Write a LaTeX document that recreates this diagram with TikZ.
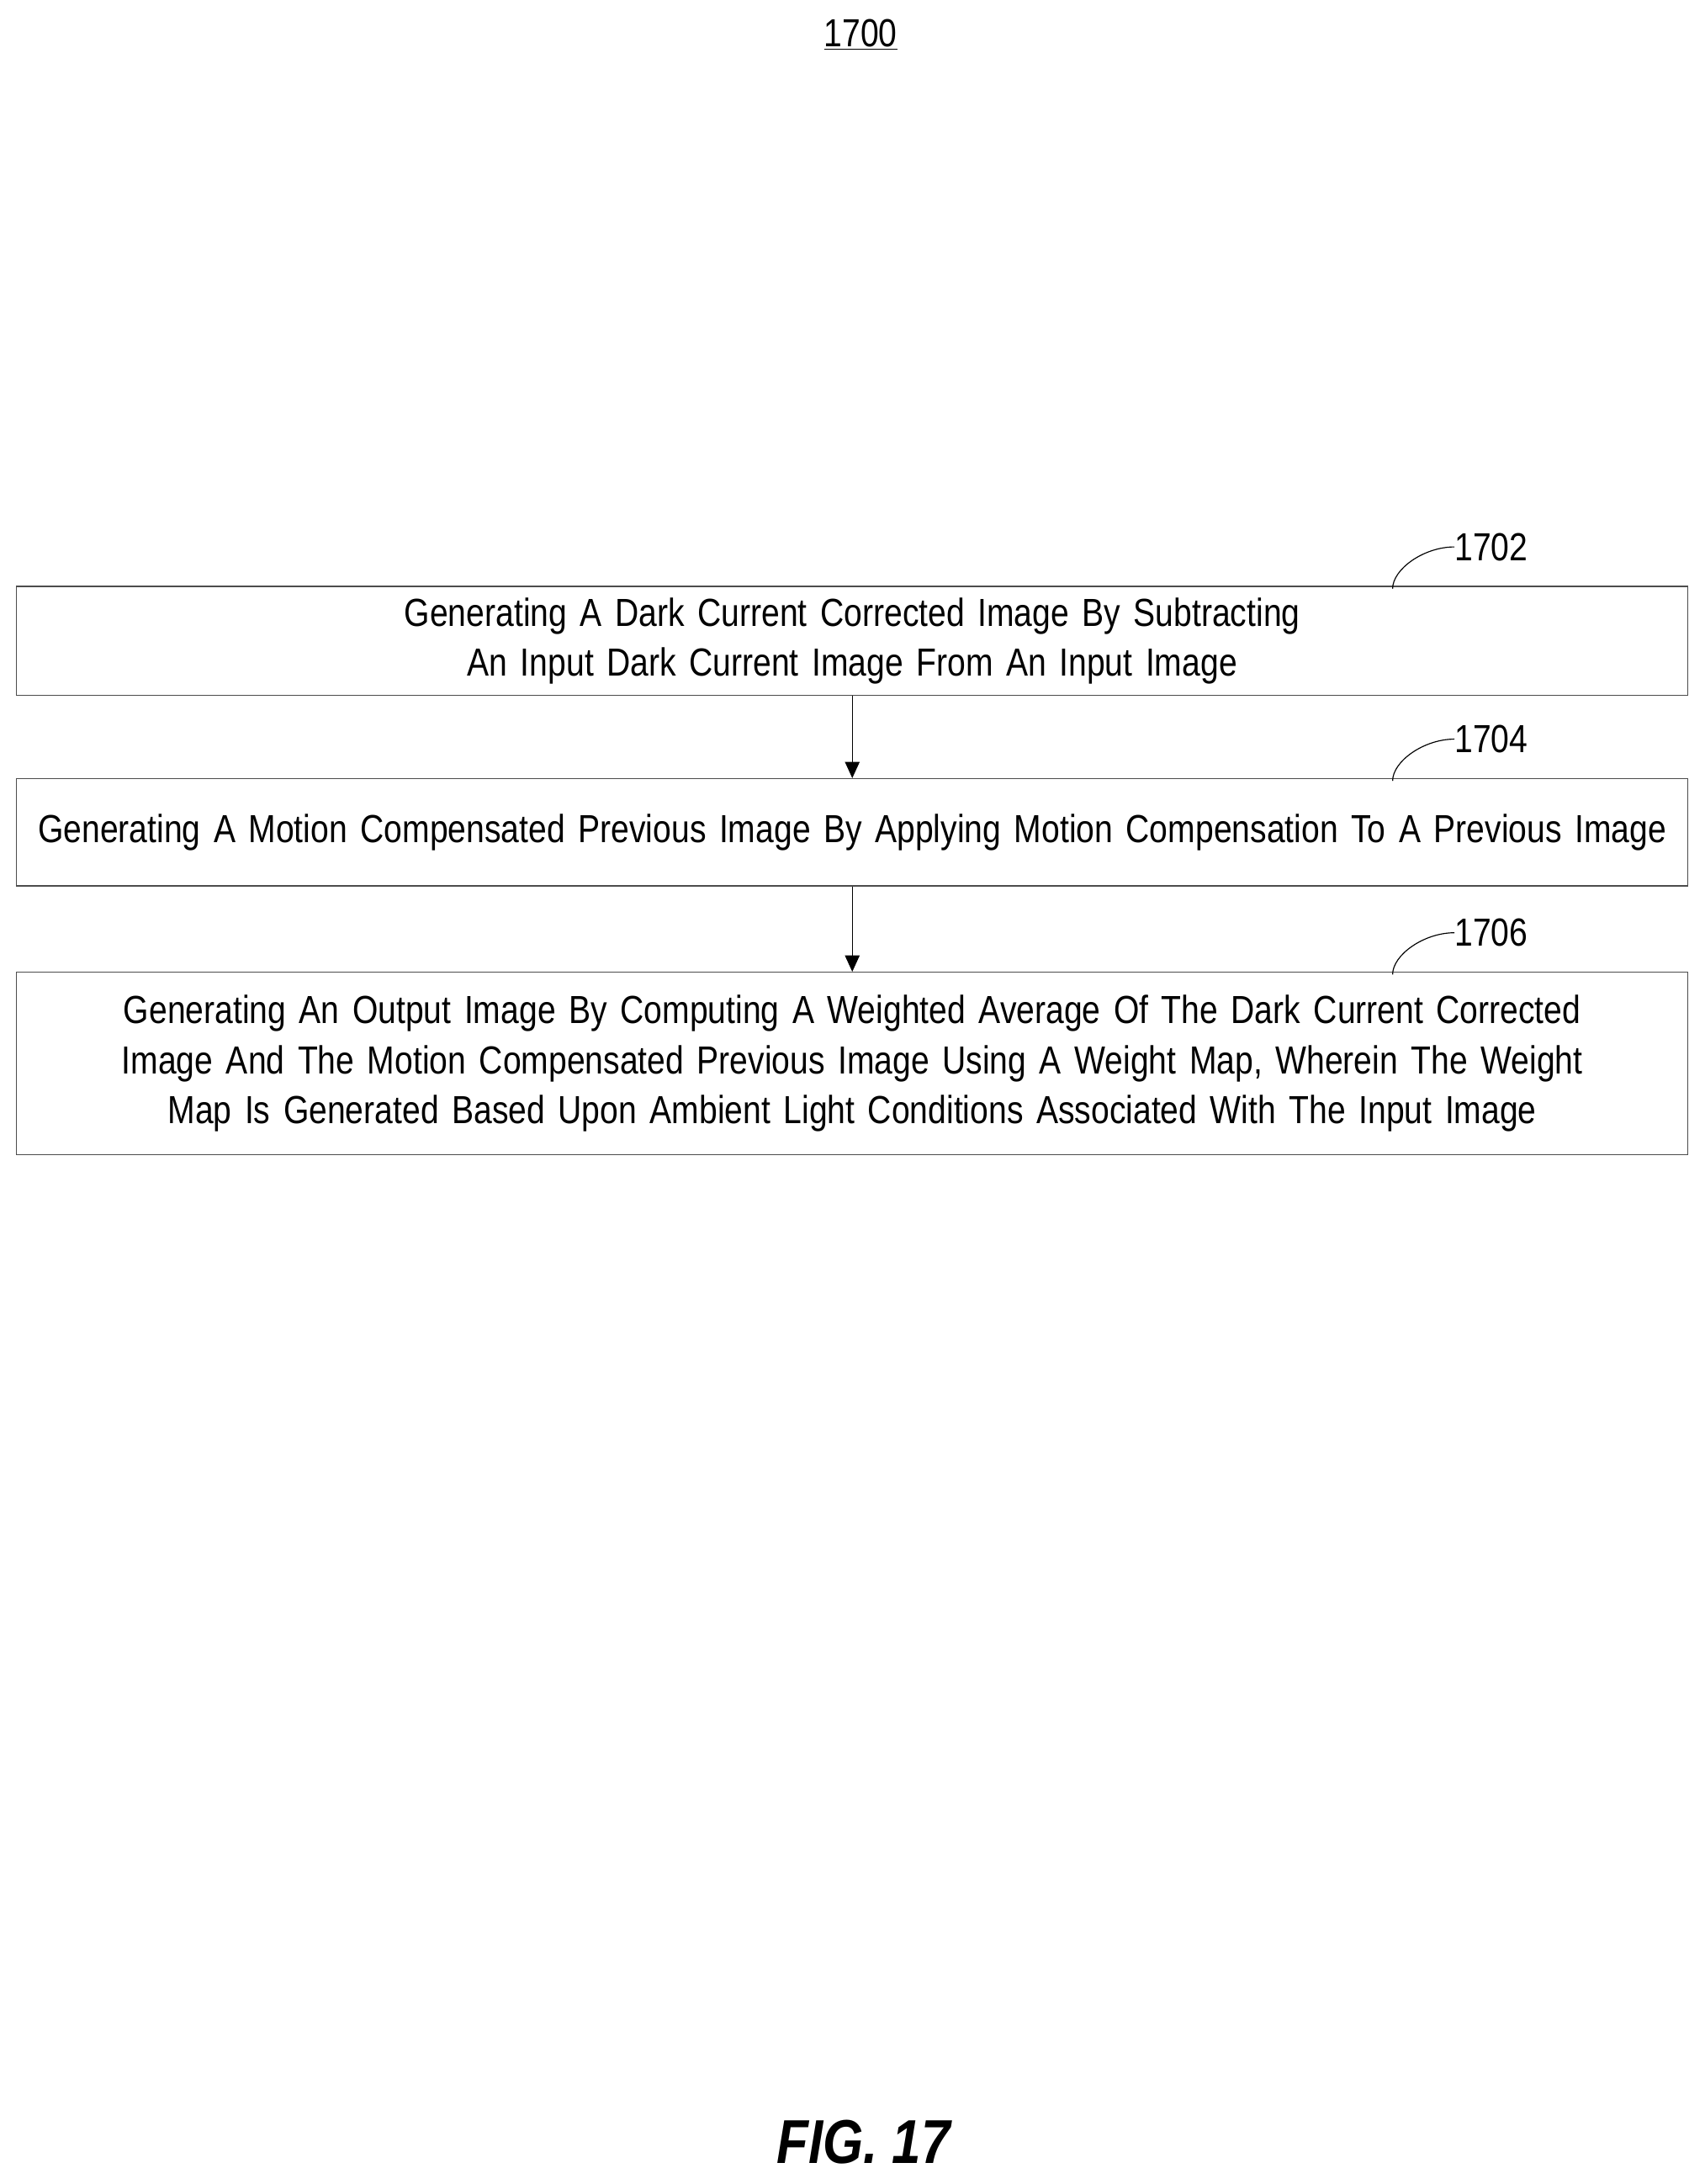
\documentclass[tikz,border=0pt]{standalone}
\usepackage{fontspec}
\setmainfont[FakeStretch=0.84]{Liberation Sans}
\usetikzlibrary{positioning,arrows.meta}
\hyphenpenalty=10000
\exhyphenpenalty=10000
\tikzset{
    stepbox/.style={draw=black!70,line width=0.6pt,minimum width=360mm,minimum height=#1,
        text width=354mm,align=center,inner sep=0pt,
        font=\fontsize{24pt}{30.5pt}\selectfont},
    reflabel/.style={font=\fontsize{24pt}{28pt}\selectfont,anchor=west,inner sep=0pt},
    flow/.style={-{Triangle[length=10pt,width=9pt]},line width=0.6pt},
}
\begin{document}
\begin{tikzpicture}[x=0.3mm,y=0.3mm]
    \useasboundingbox (0,0) rectangle (1224,-1568);
    \node[font=\fontsize{24pt}{28pt}\selectfont] (title) at (618,-25) {\underline{1700}};
    \node[stepbox=23.4mm] (s1) at (612,-460) {Generating A Dark Current Corrected Image By Subtracting An Input Dark Current Image From An Input Image};
    \node[stepbox=23.1mm] (s2) at (612,-597.5) {Generating A Motion Compensated Previous Image By Applying Motion Compensation To A Previous Image};
    \node[stepbox=39.3mm] (s3) at (612,-763.5) {Generating An Output Image By Computing A Weighted Average Of The Dark Current Corrected Image And The Motion Compensated Previous Image Using A Weight Map, Wherein The Weight Map Is Generated Based Upon Ambient Light Conditions Associated With The Input Image};
    \draw[flow] (s1) -- (s2);
    \draw[flow] (s2) -- (s3);
    % reference numerals
    \foreach \name/\num in {s1/1702,s2/1704,s3/1706} {
        \node[reflabel] (l\num) at ([xshift=-50.4mm,yshift=8.4mm]\name.north east) {\num};
        \draw[line width=0.6pt] ([yshift=-0.6mm]\name.north -| 1000,0)
            .. controls +(0,14) and +(-22,0) .. (l\num.west);
    }
    \node[font=\fontsize{38pt}{44pt}\selectfont\bfseries\itshape] (fig) at (620,-1538) {FIG. 17};
\end{tikzpicture}
\end{document}
